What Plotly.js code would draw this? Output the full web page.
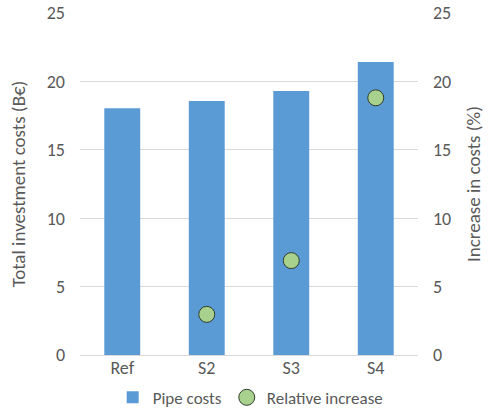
<!DOCTYPE html>
<html><head><meta charset="utf-8">
<script src="https://cdn.plot.ly/plotly-3.0.1.min.js"></script>
<style>html,body{margin:0;padding:0;background:#fff}#c{width:491px;height:411px}</style>
</head><body><div id="c"></div>
<script>
const categories = ["Ref", "S2", "S3", "S4"];
const pipeCosts = [18.03, 18.57, 19.3, 21.42];
const relIncrease = [null, 2.97, 6.9, 18.8];
const yTicks = [0, 5, 10, 15, 20, 25];

const fontFam = "Carlito, Calibri, 'Liberation Sans', 'Open Sans', sans-serif";
const gray = "#595959";

const data = [
  {type: "bar", x: categories, y: pipeCosts, name: "Pipe costs",
   marker: {color: "#5B9BD5"}, yaxis: "y"},
  {type: "scatter", mode: "markers", x: categories, y: relIncrease, name: "Relative increase",
   marker: {color: "#A9D18E", size: 16, line: {color: "#2F3B2A", width: 1}}, yaxis: "y2"}
];

const layout = {
  width: 491, height: 411,
  margin: {l: 80, r: 73, t: 13, b: 56, autoexpand: false},
  paper_bgcolor: "#fff", plot_bgcolor: "#fff",
  font: {family: fontFam, color: gray, size: 18},
  bargap: 0.575,
  showlegend: true,
  legend: {orientation: "h", x: 0.505, xanchor: "center", y: -0.125, yanchor: "middle",
           font: {size: 17, color: gray}, itemwidth: 30, tracegroupgap: 0},
  xaxis: {type: "category", showgrid: false, showline: false, zeroline: false,
          ticks: "", tickfont: {size: 18, color: gray}, automargin: false},
  yaxis: {range: [0, 25], tickvals: yTicks, showgrid: true, gridcolor: "#D9D9D9",
          zeroline: true, zerolinecolor: "#D9D9D9", showline: false, ticks: "",
          ticklabelstandoff: 14, automargin: false,
          tickfont: {size: 18, color: gray}, fixedrange: true,
          title: {text: "Total investment costs (B€)", font: {size: 19, color: gray}, standoff: 16}},
  yaxis2: {range: [0, 25], tickvals: yTicks, overlaying: "y", side: "right",
           showgrid: false, zeroline: false, showline: false, ticks: "",
           ticklabelstandoff: 14, automargin: false,
           tickfont: {size: 18, color: gray},
           title: {text: "Increase in costs (%)", font: {size: 19, color: gray}, standoff: 16}}
};

Plotly.newPlot("c", data, layout, {displayModeBar: false, staticPlot: true});
</script></body></html>
